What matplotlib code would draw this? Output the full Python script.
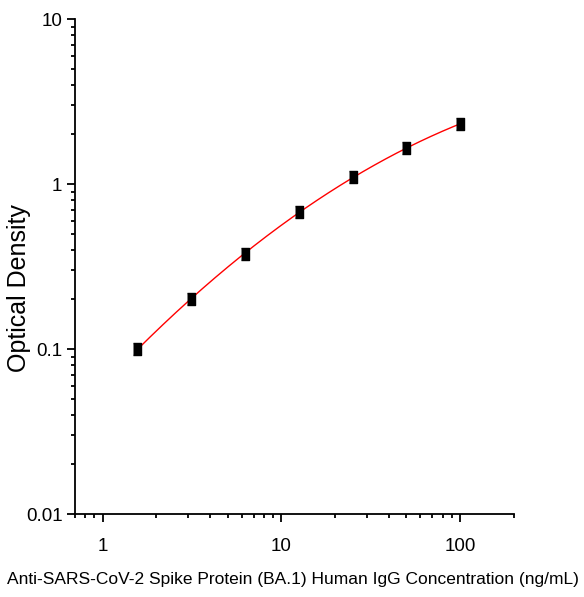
import numpy as np
import matplotlib
matplotlib.use('Agg')
import matplotlib.pyplot as plt
from matplotlib.ticker import LogLocator, FixedLocator, FixedFormatter

# 标准曲线数据
conc = [1.5625, 3.125, 6.25, 12.5, 25, 50, 100]
od = [0.100, 0.201, 0.376, 0.676, 1.10, 1.65, 2.31]
y_ticks = [0.01, 0.1, 1, 10]
y_tick_labels = ['0.01', '0.1', '1', '10']
x_ticks = [1, 10, 100]
x_tick_labels = ['1', '10', '100']

fam = ['Liberation Sans', 'DejaVu Sans']

fig = plt.figure(figsize=(5.84, 5.97), dpi=100)
ax = fig.add_axes([0.1284, 0.139, 0.7516, 0.829])

# 拟合曲线 (log-log 二次拟合)
lx = np.log10(conc)
ly = np.log10(od)
coef = np.polyfit(lx, ly, 2)
xs = np.linspace(lx[0], lx[-1], 200)
ax.plot(10 ** xs, 10 ** np.polyval(coef, xs), color='red', lw=1.0, zorder=2)

rect = [(-0.6, -1), (0.6, -1), (0.6, 1), (-0.6, 1)]
ax.plot(conc, od, linestyle='none', marker=rect, markersize=8.5,
        color='black', zorder=3)

ax.set_xscale('log')
ax.set_yscale('log')
ax.set_xlim(0.7, 200)
ax.set_ylim(0.01, 10)

ax.spines['top'].set_visible(False)
ax.spines['right'].set_visible(False)
for s in ['left', 'bottom']:
    ax.spines[s].set_linewidth(1.3)

ax.xaxis.set_major_locator(FixedLocator(x_ticks))
ax.xaxis.set_major_formatter(FixedFormatter(x_tick_labels))
ax.yaxis.set_major_locator(FixedLocator(y_ticks))
ax.yaxis.set_major_formatter(FixedFormatter(y_tick_labels))
ax.xaxis.set_minor_locator(LogLocator(base=10, subs=np.arange(2, 10)))
ax.yaxis.set_minor_locator(LogLocator(base=10, subs=np.arange(2, 10)))
ax.xaxis.set_minor_formatter(plt.NullFormatter())
ax.yaxis.set_minor_formatter(plt.NullFormatter())

ax.tick_params(which='major', length=6, width=1.3, direction='out')
ax.tick_params(which='minor', length=3, width=1.3, direction='out')
ax.tick_params(axis='x', which='major', pad=11)
ax.tick_params(axis='y', which='major', pad=3)
for lab in ax.get_xticklabels() + ax.get_yticklabels():
    lab.set_fontfamily(fam)
    lab.set_fontsize(13.5)

ax.set_xlabel('Anti-SARS-CoV-2 Spike Protein (BA.1) Human IgG Concentration (ng/mL)',
              fontsize=12.5, family=fam)
ax.set_ylabel('Optical Density', fontsize=18, family=fam)
ax.xaxis.set_label_coords(0.497, -0.118)
ax.yaxis.set_label_coords(-0.10, 0.457)

fig.savefig('out.png', dpi=100)
